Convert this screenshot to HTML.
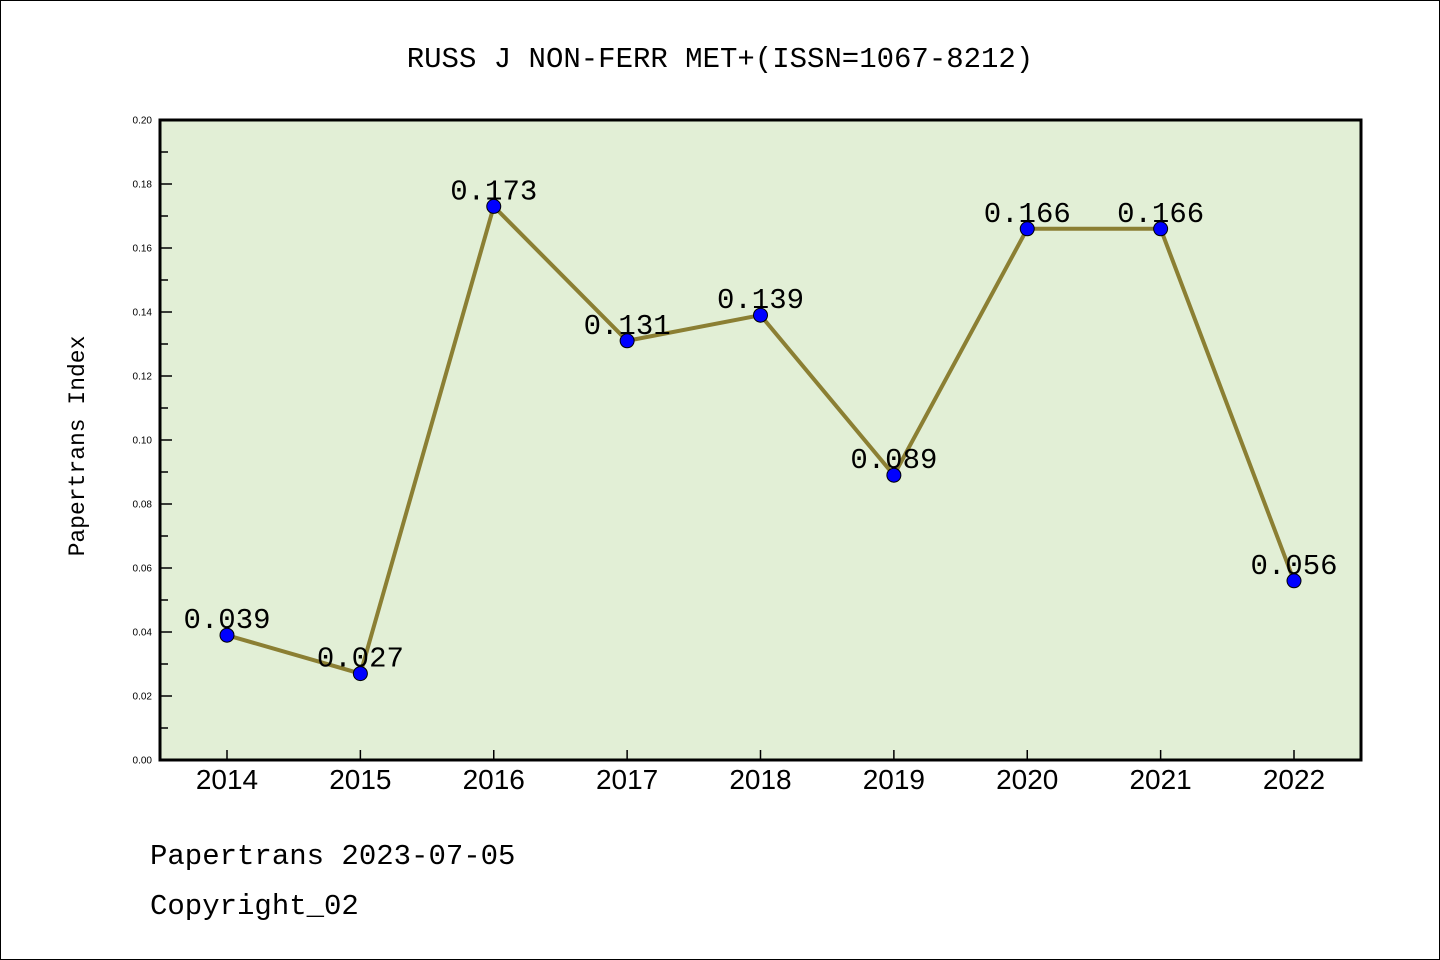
<!DOCTYPE html>
<html><head><meta charset="utf-8"><style>
body{margin:0;background:#fff}
svg{display:block}
</style></head><body>
<svg width="1440" height="960" xmlns="http://www.w3.org/2000/svg">
<rect x="0.5" y="0.5" width="1439" height="959" fill="#fff" stroke="#000" stroke-width="1"/>
<text x="720" y="67" text-anchor="middle" font-family="'Liberation Mono','WenQuanYi Zen Hei',monospace" font-size="29">RUSS J NON-FERR MET+(ISSN=1067-8212)</text>
<rect x="160" y="120" width="1201" height="640" fill="#e2efd6"/>
<g id="ticks"></g>
<g id="series"></g>
<rect x="160" y="120" width="1201" height="640" fill="none" stroke="#000" stroke-width="3"/>
<text transform="translate(84,446) rotate(-90)" text-anchor="middle" font-family="'Liberation Mono','WenQuanYi Zen Hei',monospace" font-size="23">Papertrans Index</text>
<text x="150" y="864" font-family="'Liberation Mono','WenQuanYi Zen Hei',monospace" font-size="29">Papertrans 2023-07-05</text>
<text x="150" y="914" font-family="'Liberation Mono','WenQuanYi Zen Hei',monospace" font-size="29">Copyright_02</text>
</svg>
<script>
const years=['2014','2015','2016','2017','2018','2019','2020','2021','2022'];
const values=[0.039,0.027,0.173,0.131,0.139,0.089,0.166,0.166,0.056];
const valueLabels=['0.039','0.027','0.173','0.131','0.139','0.089','0.166','0.166','0.056'];
const yTicks=[0,0.02,0.04,0.06,0.08,0.10,0.12,0.14,0.16,0.18,0.20];
const NS='http://www.w3.org/2000/svg';
function xs(i){return 227+i*(1294-227)/(years.length-1);}
function ys(v){return 760-v/0.2*640;}
function mk(t,a,p){const e=document.createElementNS(NS,t);for(const k in a)e.setAttribute(k,a[k]);p.appendChild(e);return e;}
const tg=document.getElementById('ticks'),sg=document.getElementById('series');
yTicks.forEach((v,i)=>{
 const l=mk('line',{x1:160,x2:172,y1:ys(v),y2:ys(v),stroke:'#000','stroke-width':1.5},tg);
 
 
 const t=mk('text',{x:152,y:ys(v)+3.5,'text-anchor':'end','font-family':'Liberation Sans,sans-serif','font-size':10},tg);
 t.textContent=v.toFixed(2);
 
 
 if(i<yTicks.length-1){const mv=(v+yTicks[i+1])/2;
  const m=mk('line',{x1:160,x2:168,y1:ys(mv),y2:ys(mv),stroke:'#000','stroke-width':1.5},tg);
  
  }
});
years.forEach((y,i)=>{
 const l=mk('line',{x1:xs(i),x2:xs(i),y1:760,y2:750,stroke:'#000','stroke-width':1.5},tg);
 
 
 const t=mk('text',{x:xs(i),y:789,'text-anchor':'middle','font-family':'Liberation Sans,sans-serif','font-size':28},tg);
 t.textContent=y;
 
 
});
const pl=mk('polyline',{points:values.map((v,i)=>xs(i)+','+ys(v)).join(' '),fill:'none',stroke:'#8b7f33','stroke-width':4},sg);


values.forEach((v,i)=>{
 const c=mk('circle',{cx:xs(i),cy:ys(v),r:7,fill:'#0000ff',stroke:'#000','stroke-width':1},sg);
 
 
 const t=mk('text',{x:xs(i),y:ys(v)-7,'text-anchor':'middle','font-family':"'Liberation Mono','WenQuanYi Zen Hei',monospace",'font-size':29},sg);
 t.textContent=valueLabels[i];
 
 
});
</script>
</body></html>
